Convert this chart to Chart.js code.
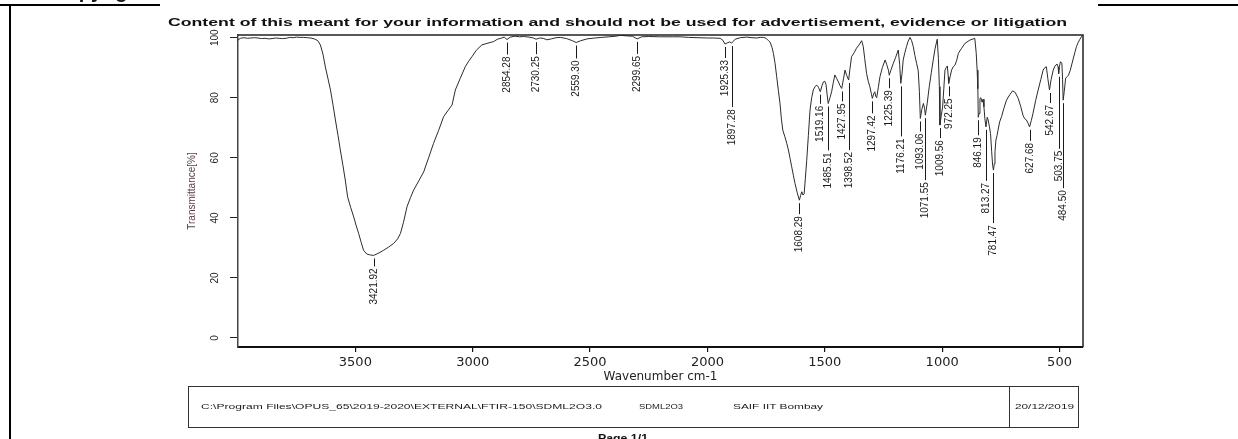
<!DOCTYPE html>
<html>
<head>
<meta charset="utf-8">
<title>FTIR spectrum SDML2O3</title>
<script src="https://cdn.jsdelivr.net/npm/chart.js@4.4.1/dist/chart.umd.min.js"></script>
<style>
  html, body { margin: 0; padding: 0; background: #fff; }
  #page { position: relative; width: 1238px; height: 439px; overflow: hidden; background: #fff;
          font-family: "Liberation Sans", Arial, sans-serif; color: #111; }
  #c { position: absolute; left: 0; top: 0; }
  .rule { position: absolute; background: #000; }
  .txt { position: absolute; white-space: nowrap; transform-origin: 0 0; line-height: 1; }
  .box { position: absolute; border: 1px solid #333; box-sizing: border-box; }
  .small { font-size: 8px; color: #1a1a1a; }
</style>
</head>
<body>
<div id="page">
  <canvas id="c" width="1238" height="439"></canvas>

  <div class="txt" style="left:52px; top:-19px; font-size:20px; font-weight:bold;">Copyright</div>
  <div class="rule" style="left:0; top:4px; width:160px; height:2px;"></div>
  <div class="rule" style="left:9px; top:4px; width:1.5px; height:435px;"></div>
  <div class="rule" style="left:1098px; top:4px; width:140px; height:2px;"></div>

  <div class="txt" data-w="899" style="left:168px; top:17px; font-size:10.5px; font-weight:bold;">Content of this meant for your information and should not be used for advertisement, evidence or litigation</div>

  <div class="box" style="left:188px; top:386px; width:891px; height:42px;"></div>
  <div class="rule" style="left:1009px; top:386px; width:1px; height:42px; background:#333;"></div>
  <div class="txt small" data-w="401" style="left:201px; top:403px;">C:\Program Files\OPUS_65\2019-2020\EXTERNAL\FTIR-150\SDML2O3.0</div>
  <div class="txt small" data-w="44" style="left:639px; top:403px;">SDML2O3</div>
  <div class="txt small" data-w="90" style="left:733px; top:403px;">SAIF IIT Bombay</div>
  <div class="txt small" data-w="59" style="left:1015px; top:403px;">20/12/2019</div>

  <div class="txt" data-w="50" style="left:598px; top:433px; font-size:11px; font-weight:bold;">Page 1/1</div>
</div>

<script>
// Spectrum: wavenumber (cm-1) and transmittance (%)
const wavenumbers = [
  4000, 3990, 3975, 3960, 3945, 3930, 3915, 3900, 3885, 3870, 3855, 3840, 3825, 3810, 3795, 3780,
  3765, 3750, 3735, 3720, 3705, 3690, 3675, 3660, 3649, 3638, 3628, 3617, 3606, 3595, 3585, 3574,
  3564, 3553, 3543, 3533, 3520, 3507, 3496, 3486, 3475, 3465, 3452, 3440, 3421.92, 3400, 3380, 3358,
  3337, 3320, 3308, 3295, 3280, 3265, 3252, 3230, 3209, 3188, 3167, 3145, 3124, 3105, 3088, 3074,
  3053, 3032, 3017, 3003, 2985, 2961, 2935, 2911, 2895, 2880, 2866, 2854.28, 2840, 2820, 2800, 2783,
  2760, 2741, 2730.25, 2715, 2700, 2684, 2665, 2645, 2627, 2600, 2575, 2559.30, 2540, 2513, 2480, 2450,
  2420, 2390, 2372, 2343, 2320, 2299.65, 2280, 2250, 2200, 2150, 2117, 2080, 2040, 2000, 1975, 1946,
  1935, 1925.33, 1915, 1905, 1897.28, 1890, 1882, 1860, 1833, 1810, 1790, 1775, 1762, 1750, 1740, 1733,
  1725, 1719, 1712, 1705, 1698, 1691, 1685, 1679, 1670, 1662, 1655, 1648, 1641, 1634, 1627, 1618,
  1608.29, 1603, 1598, 1593, 1588, 1583, 1577, 1570, 1563, 1556, 1549, 1541, 1534, 1527, 1519.16, 1512,
  1506, 1500, 1495, 1490, 1485.51, 1478, 1471, 1464, 1457, 1450, 1442, 1435, 1427.95, 1420, 1414, 1407,
  1398.52, 1393, 1386, 1375, 1365, 1355, 1343, 1336, 1330, 1322, 1315, 1308, 1302, 1297.42, 1291, 1287,
  1283, 1279, 1272, 1265, 1255, 1243, 1236, 1229, 1225.39, 1217, 1208, 1198, 1187, 1181, 1176.21, 1171,
  1166, 1159, 1152, 1145, 1137, 1130, 1123, 1116, 1109, 1102, 1097, 1093.06, 1087, 1080, 1075, 1071.55,
  1064, 1055, 1046, 1038, 1030, 1021, 1016, 1012, 1009.56, 1004, 998, 993, 988, 983, 978, 974,
  972.25, 966, 960, 953, 945, 938, 931, 917, 903, 882, 861, 855, 851, 848, 846.19, 843,
  839, 835, 830, 826, 822, 818, 813.27, 808, 804, 799, 794, 789, 785, 781.47, 778, 775,
  771, 766, 762, 755, 747, 737, 726, 712, 700, 689, 676, 665, 655, 648, 641, 634,
  627.68, 620, 613, 602, 591, 580, 570, 563, 556, 550, 542.67, 536, 527, 520, 516, 510,
  506, 503.75, 500, 496, 490, 487, 484.50, 480, 474, 468, 462, 454, 443, 435, 428, 420,
  413, 407, 400
];
const transmittance = [
  99.2, 99.8, 100.0, 99.8, 99.9, 100.0, 99.9, 99.7, 99.8, 99.6, 99.7, 99.9, 99.8, 99.7, 99.8, 100.1,
  100.0, 100.2, 100.1, 100.1, 100.0, 99.9, 99.6, 99.0, 97.6, 94.5, 90.3, 86.5, 82.6, 77.5, 72.6, 67.5,
  62.6, 57.5, 52.6, 47.0, 43.5, 40.3, 37.3, 34.8, 31.8, 29.2, 28.0, 27.7, 27.5, 28.3, 29.2, 30.3,
  31.5, 33.0, 34.8, 38.5, 43.7, 46.8, 49.2, 52.3, 55.3, 60.0, 64.8, 69.2, 73.7, 75.8, 77.6, 82.6,
  86.5, 90.3, 92.2, 93.7, 95.8, 97.6, 98.2, 98.7, 99.5, 99.8, 100.2, 99.4, 100.2, 100.5, 100.3, 100.4,
  100.2, 99.9, 99.5, 99.9, 99.8, 99.3, 99.6, 100.0, 100.1, 99.7, 99.0, 98.4, 99.0, 99.6, 99.9, 100.1,
  100.3, 100.5, 100.8, 100.6, 100.5, 99.6, 100.3, 100.4, 100.3, 100.3, 100.3, 100.1, 100.0, 99.9, 99.9, 99.8,
  99.2, 97.9, 98.3, 98.6, 98.2, 98.8, 99.5, 100.0, 100.2, 100.0, 99.9, 100.1, 100.1, 99.8, 99.0, 98.5,
  96.8, 94.8, 91.5, 87.0, 82.5, 78.2, 73.0, 69.2, 67.0, 64.8, 62.6, 59.8, 57.0, 54.2, 51.5, 48.5,
  45.9, 47.5, 48.7, 47.6, 48.0, 53.0, 59.2, 67.5, 75.9, 80.0, 82.6, 83.8, 84.2, 83.5, 82.0, 84.0,
  85.3, 85.5, 84.5, 81.0, 78.1, 80.0, 82.0, 85.0, 87.6, 86.5, 85.3, 84.0, 83.1, 86.5, 89.2, 87.5,
  85.9, 89.5, 93.7, 95.0, 96.5, 97.5, 99.0, 97.0, 93.0, 88.1, 85.5, 83.7, 81.5, 79.8, 81.5, 82.0,
  80.5, 80.0, 83.5, 87.0, 90.0, 92.6, 91.0, 89.2, 87.5, 89.5, 91.5, 93.5, 95.9, 91.0, 84.8, 88.0,
  92.6, 95.0, 97.0, 98.8, 100.1, 99.0, 97.0, 94.0, 91.5, 89.0, 82.0, 73.1, 76.0, 78.1, 76.5, 74.2,
  78.0, 83.7, 88.5, 92.6, 96.5, 99.5, 93.0, 83.7, 70.9, 74.0, 77.0, 83.0, 89.2, 90.0, 90.6, 87.0,
  84.8, 87.0, 89.2, 90.3, 90.9, 92.5, 94.8, 96.5, 98.1, 99.2, 99.8, 95.0, 89.2, 83.0, 73.5, 74.8,
  79.8, 80.0, 78.5, 79.5, 77.0, 73.0, 70.3, 73.5, 72.6, 70.5, 68.1, 62.0, 57.5, 55.9, 58.0, 62.0,
  65.9, 67.5, 69.2, 72.0, 73.7, 76.5, 79.2, 81.0, 82.3, 81.8, 79.8, 77.0, 74.0, 73.0, 72.6, 71.5,
  70.3, 72.5, 74.8, 79.0, 82.6, 86.0, 89.2, 90.0, 90.3, 86.5, 82.6, 86.0, 89.2, 90.5, 90.9, 91.2,
  90.3, 88.0, 90.5, 92.0, 91.5, 86.0, 79.2, 82.0, 86.5, 87.0, 87.5, 89.2, 92.6, 95.0, 97.0, 98.5,
  99.5, 100.3, 101.0
];

// Labelled band positions (cm-1)
const peakWavenumbers = [
  3421.92, 2854.28, 2730.25, 2559.30, 2299.65, 1925.33, 1897.28, 1608.29, 1519.16, 1485.51,
  1427.95, 1398.52, 1297.42, 1225.39, 1176.21, 1093.06, 1071.55, 1009.56, 972.25, 846.19,
  813.27, 781.47, 627.68, 542.67, 503.75, 484.50
];

const xTickValues = [3500, 3000, 2500, 2000, 1500, 1000, 500];
const yTickValues = [0, 20, 40, 60, 80, 100];

// Box around the plotting area (top and right edges; left/bottom come from the axes)
const framePlugin = {
  id: 'frame',
  afterDatasetsDraw(chart) {
    const { ctx, chartArea: a } = chart;
    ctx.save();
    ctx.strokeStyle = '#222';
    ctx.lineWidth = 1.5;
    ctx.beginPath();
    ctx.moveTo(a.left, a.top);
    ctx.lineTo(a.right, a.top);
    ctx.lineTo(a.right, a.bottom);
    ctx.stroke();
    ctx.restore();
  }
};

// Vertical band labels hanging below each band minimum
const peakLabelPlugin = {
  id: 'peakLabels',
  afterDatasetsDraw(chart, args, opts) {
    const { ctx, scales: { x, y } } = chart;
    ctx.save();
    ctx.strokeStyle = opts.color;
    ctx.fillStyle = opts.color;
    ctx.lineWidth = 1;
    ctx.font = opts.font;
    ctx.textAlign = 'right';
    ctx.textBaseline = 'middle';
    peakWavenumbers.forEach((wn, i) => {
      const t = transmittance[wavenumbers.indexOf(wn)];
      const px = Math.round(x.getPixelForValue(wn)) + 0.5;
      const py = y.getPixelForValue(t);
      const textTop = py + opts.drop[i];
      ctx.beginPath();
      ctx.moveTo(px, py + 3);
      ctx.lineTo(px, textTop - 2);
      ctx.stroke();
      ctx.save();
      ctx.translate(px, textTop);
      ctx.rotate(-Math.PI / 2);
      ctx.fillText(wn.toFixed(2), 0, 0);
      ctx.restore();
    });
    ctx.restore();
  }
};

new Chart(document.getElementById('c'), {
  type: 'line',
  data: {
    datasets: [{
      data: wavenumbers.map((w, i) => ({ x: w, y: transmittance[i] })),
      borderColor: '#2b2b2b',
      borderWidth: 1,
      pointRadius: 0,
      tension: 0,
      fill: false
    }]
  },
  options: {
    responsive: false,
    animation: false,
    devicePixelRatio: 1,
    layout: { padding: { left: 180, right: 155, top: 35, bottom: 52 } },
    plugins: {
      legend: { display: false },
      tooltip: { enabled: false },
      title: { display: false },
      peakLabels: {
        color: '#1a1a1a',
        font: '10px "Liberation Sans", Arial, sans-serif',
        drop: [13, 17, 17, 18, 17, 16, 66, 16, 14, 49,
               15, 72, 17, 15, 55, 15, 67, 15, 15, 20,
               56, 55, 16, 15, 77, 90]
      }
    },
    scales: {
      x: {
        type: 'linear',
        reverse: true,
        min: 400,
        max: 4000,
        afterBuildTicks: s => { s.ticks = xTickValues.map(v => ({ value: v })); },
        afterFit: s => { s.height = 40; },
        grid: { display: true, drawOnChartArea: false, drawTicks: true, tickLength: 5, color: '#111', lineWidth: 1.2 },
        border: { display: true, color: '#111', width: 2 },
        ticks: {
          autoSkip: false, maxRotation: 0, padding: 3, color: '#222',
          font: { family: 'DejaVu Sans', size: 13 },
          callback: v => String(v)
        },
        title: {
          display: true, text: 'Wavenumber cm-1', color: '#222',
          font: { family: 'DejaVu Sans', size: 12 },
          padding: { top: 0, bottom: 3 }
        }
      },
      y: {
        min: -3,
        max: 100.9,
        afterBuildTicks: s => { s.ticks = yTickValues.map(v => ({ value: v })); },
        afterFit: s => { s.width = 58; },
        grid: { display: true, drawOnChartArea: false, drawTicks: true, tickLength: 8, color: '#222', lineWidth: 1 },
        border: { display: true, color: '#444', width: 1.5 },
        ticks: {
          minRotation: 90, maxRotation: 90, crossAlign: 'center', padding: 6, color: '#222',
          font: { family: 'Liberation Sans', size: 10 },
          callback: v => String(v)
        },
        title: {
          display: true, text: 'Transmittance[%]', color: '#5a3a4a',
          font: { family: 'Liberation Sans', size: 10 },
          padding: { top: 6, bottom: 0 }
        }
      }
    }
  },
  plugins: [framePlugin, peakLabelPlugin]
});

// Fit the page header/footer strings to their printed widths
document.querySelectorAll('.txt[data-w]').forEach(el => {
  const natural = el.getBoundingClientRect().width;
  const target = parseFloat(el.dataset.w);
  if (natural > 0) el.style.transform = 'scaleX(' + (target / natural) + ')';
});
</script>
</body>
</html>
